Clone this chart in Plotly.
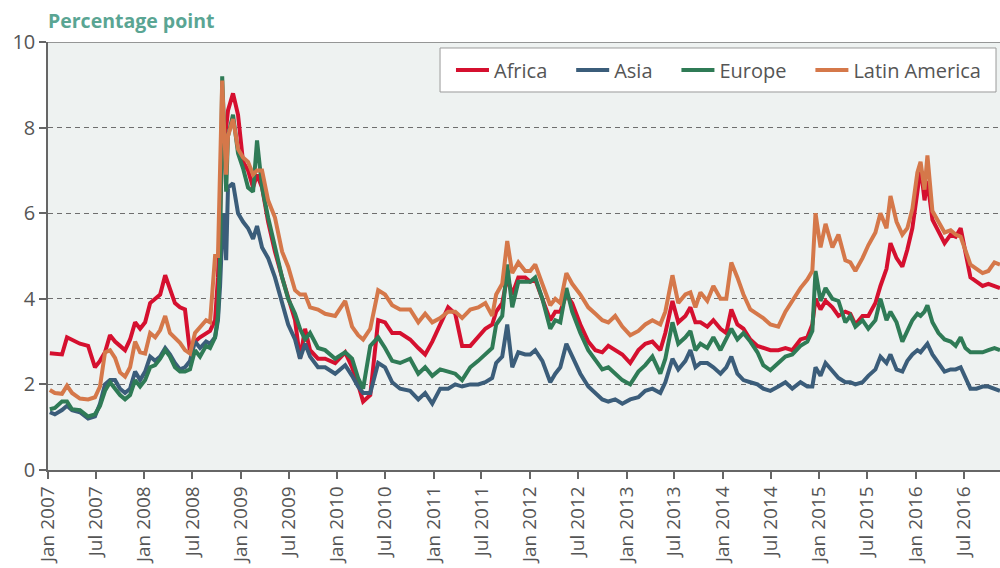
import plotly.graph_objects as go

dates = [
    "2007-01-08","2007-01-27","2007-02-23","2007-03-14","2007-04-02","2007-05-02","2007-06-02","2007-06-28",
    "2007-07-17","2007-08-05","2007-08-24","2007-09-12","2007-10-01","2007-10-20","2007-11-08","2007-11-27",
    "2007-12-16","2008-01-04","2008-01-23","2008-02-11","2008-03-01","2008-03-20","2008-04-07","2008-04-26",
    "2008-05-15","2008-06-03","2008-06-22","2008-07-11","2008-07-30","2008-08-22","2008-09-06","2008-09-25",
    "2008-10-06","2008-10-14","2008-10-22","2008-10-29","2008-11-06","2008-11-13","2008-12-02","2008-12-21",
    "2009-01-09","2009-01-28","2009-02-16","2009-03-03","2009-03-22","2009-04-14","2009-05-10","2009-06-06",
    "2009-06-29","2009-07-25","2009-08-13","2009-09-01","2009-09-20","2009-10-20","2009-11-16","2009-12-24",
    "2010-01-31","2010-02-26","2010-03-21","2010-04-09","2010-05-06","2010-06-05","2010-07-01","2010-07-28",
    "2010-08-27","2010-10-04","2010-11-04","2010-11-30","2010-12-27","2011-01-26","2011-02-25","2011-03-24",
    "2011-04-19","2011-05-20","2011-06-19","2011-07-16","2011-08-11","2011-08-26","2011-09-18","2011-10-07",
    "2011-10-26","2011-11-18","2011-12-14","2012-01-02","2012-01-21","2012-02-17","2012-03-18","2012-04-06",
    "2012-04-25","2012-05-18","2012-06-09","2012-07-10","2012-08-09","2012-09-05","2012-10-01","2012-10-24",
    "2012-11-19","2012-12-16","2013-01-15","2013-02-15","2013-03-13","2013-04-09","2013-05-09","2013-05-28",
    "2013-06-24","2013-07-16","2013-08-12","2013-08-31","2013-09-19","2013-10-08","2013-11-03","2013-11-26",
    "2013-12-23","2014-01-14","2014-02-02","2014-02-25","2014-03-20","2014-04-15","2014-05-12","2014-06-03",
    "2014-06-30","2014-07-30","2014-08-26","2014-09-21","2014-10-22","2014-11-17","2014-12-06","2014-12-18",
    "2015-01-06","2015-01-25","2015-02-20","2015-03-15","2015-04-10","2015-04-29","2015-05-18","2015-06-14",
    "2015-07-06","2015-08-02","2015-08-21","2015-09-13","2015-09-28","2015-10-21","2015-11-12","2015-12-01",
    "2015-12-20","2016-01-08","2016-01-20","2016-02-04","2016-02-15","2016-03-05","2016-03-28","2016-04-20",
    "2016-05-13","2016-06-01","2016-06-20","2016-07-08","2016-07-27","2016-08-19","2016-09-11","2016-10-03",
    "2016-10-26","2016-11-16",
]

africa = [
    2.73,2.72,2.70,3.10,3.05,2.95,2.90,2.40,
    2.55,2.75,3.15,3.00,2.90,2.80,3.05,3.45,
    3.30,3.45,3.90,4.00,4.10,4.55,4.20,3.90,
    3.80,3.75,2.75,3.00,3.10,3.20,3.25,3.50,
    4.50,6.00,7.50,7.80,8.00,8.40,8.80,8.30,
    7.20,7.00,6.60,6.90,6.60,5.80,5.10,4.50,
    4.00,3.50,2.60,3.30,2.80,2.60,2.60,2.50,
    2.75,2.40,2.00,1.60,1.75,3.50,3.45,3.20,
    3.20,3.05,2.85,2.70,3.00,3.40,3.80,3.65,
    2.90,2.90,3.10,3.30,3.40,3.70,3.90,4.50,
    4.10,4.50,4.50,4.40,4.45,4.00,3.50,3.70,
    3.70,4.10,3.90,3.40,3.00,2.80,2.75,2.90,
    2.80,2.70,2.50,2.80,2.95,3.00,2.80,3.20,
    3.95,3.45,3.60,3.80,3.45,3.45,3.35,3.50,
    3.30,3.20,3.75,3.40,3.30,3.05,2.90,2.85,
    2.80,2.80,2.85,2.80,3.05,3.10,3.40,4.00,
    3.75,3.95,3.80,3.60,3.70,3.65,3.40,3.60,
    3.60,3.90,4.30,4.70,5.30,4.95,4.75,5.15,
    5.65,6.50,7.10,6.30,6.75,5.85,5.55,5.30,
    5.50,5.45,5.65,5.05,4.50,4.40,4.30,4.35,
    4.30,4.25,
]

asia = [
    1.35,1.30,1.40,1.50,1.40,1.35,1.20,1.25,
    1.55,2.00,2.10,2.10,1.90,1.80,1.90,2.30,
    2.10,2.30,2.65,2.55,2.65,2.85,2.70,2.50,
    2.35,2.40,2.55,3.00,2.85,3.00,2.95,3.10,
    3.50,4.30,5.50,6.00,4.90,6.60,6.70,6.00,
    5.80,5.65,5.40,5.70,5.20,4.95,4.50,3.90,
    3.40,3.05,2.60,2.95,2.65,2.40,2.40,2.25,
    2.45,2.20,1.95,1.80,1.80,2.50,2.40,2.05,
    1.90,1.85,1.65,1.80,1.55,1.90,1.90,2.00,
    1.95,2.00,2.00,2.05,2.15,2.50,2.65,3.40,
    2.40,2.75,2.70,2.70,2.80,2.55,2.05,2.25,
    2.40,2.95,2.65,2.25,1.95,1.80,1.65,1.60,
    1.65,1.55,1.65,1.70,1.85,1.90,1.80,2.05,
    2.60,2.35,2.55,2.80,2.40,2.50,2.50,2.40,
    2.25,2.40,2.65,2.25,2.10,2.05,2.00,1.90,
    1.85,1.95,2.05,1.90,2.05,1.95,1.95,2.40,
    2.20,2.50,2.30,2.15,2.05,2.05,2.00,2.05,
    2.20,2.35,2.65,2.50,2.70,2.35,2.30,2.55,
    2.70,2.80,2.75,2.85,2.95,2.70,2.50,2.30,
    2.35,2.35,2.40,2.15,1.90,1.90,1.95,1.95,
    1.90,1.85,
]

europe = [
    1.42,1.45,1.60,1.60,1.42,1.40,1.25,1.30,
    1.50,1.85,2.05,1.90,1.75,1.65,1.75,2.10,
    1.95,2.10,2.40,2.45,2.60,2.80,2.65,2.40,
    2.30,2.30,2.35,2.80,2.65,2.90,2.85,3.10,
    3.60,5.00,9.20,8.00,6.50,7.80,8.30,7.40,
    7.05,6.60,6.50,7.70,6.60,5.90,5.20,4.50,
    4.00,3.65,3.30,3.05,3.20,2.85,2.80,2.60,
    2.75,2.60,2.15,1.90,2.90,3.10,2.85,2.55,
    2.50,2.60,2.25,2.40,2.20,2.35,2.30,2.25,
    2.10,2.40,2.55,2.70,2.85,3.40,3.60,4.80,
    3.80,4.40,4.40,4.40,4.50,4.00,3.30,3.50,
    3.45,4.25,3.70,3.20,2.80,2.55,2.35,2.40,
    2.25,2.10,2.00,2.30,2.45,2.65,2.25,2.60,
    3.45,2.95,3.10,3.25,2.80,2.95,2.85,3.10,
    2.80,3.05,3.30,3.05,3.20,3.00,2.75,2.45,
    2.33,2.50,2.65,2.70,2.90,3.00,3.25,4.65,
    3.95,4.25,4.00,3.95,3.45,3.60,3.35,3.50,
    3.30,3.50,4.00,3.50,3.70,3.45,3.00,3.25,
    3.50,3.65,3.60,3.70,3.85,3.45,3.20,3.05,
    3.00,2.90,3.10,2.85,2.75,2.75,2.75,2.80,
    2.85,2.80,
]

latin_america = [
    1.87,1.80,1.78,1.97,1.80,1.67,1.65,1.70,
    1.95,2.75,2.80,2.62,2.28,2.18,2.40,3.00,
    2.75,2.72,3.20,3.10,3.27,3.60,3.20,3.10,
    2.97,2.80,2.72,3.20,3.35,3.50,3.45,5.00,
    5.00,7.00,9.10,8.00,6.90,7.80,8.20,7.50,
    7.30,7.20,6.90,7.00,7.00,6.30,5.90,5.10,
    4.75,4.20,4.10,4.10,3.80,3.75,3.65,3.60,
    3.95,3.35,3.15,3.05,3.30,4.20,4.10,3.85,
    3.75,3.75,3.45,3.65,3.45,3.55,3.70,3.70,
    3.55,3.75,3.80,3.90,3.60,4.10,4.35,5.35,
    4.60,4.85,4.65,4.65,4.80,4.35,3.85,4.00,
    3.90,4.60,4.35,4.10,3.80,3.65,3.50,3.45,
    3.60,3.35,3.15,3.25,3.40,3.50,3.40,3.70,
    4.55,3.90,4.10,4.15,3.80,4.15,3.95,4.30,
    4.00,4.00,4.85,4.50,4.10,3.75,3.65,3.55,
    3.40,3.35,3.70,3.95,4.25,4.45,4.65,6.00,
    5.20,5.75,5.20,5.50,4.90,4.85,4.65,4.95,
    5.25,5.55,6.00,5.65,6.40,5.80,5.50,5.65,
    6.10,6.95,7.20,6.55,7.35,6.05,5.80,5.55,
    5.60,5.50,5.45,5.10,4.80,4.70,4.60,4.65,
    4.85,4.80,
]

series_names = ["Africa", "Asia", "Europe", "Latin America"]
series_values = [africa, asia, europe, latin_america]
series_colors = ["#d5102f", "#3b5d7a", "#2f7b56", "#d5784a"]

y_ticks = [0, 2, 4, 6, 8, 10]

FONT = "Open Sans"
TXT = "#555555"

fig = go.Figure()
for i, (name, vals, col) in enumerate(zip(series_names, series_values, series_colors)):
    pad = "\u00a0" * 3 + "\u2009" if i < len(series_names) - 1 else ""
    fig.add_trace(go.Scatter(
        x=dates, y=vals, name=name + pad, mode="lines",
        line=dict(color=col, width=4),
    ))

fig.update_layout(
    width=1000, height=568,
    margin=dict(l=48, r=0, t=42, b=98, autoexpand=False),
    paper_bgcolor="white",
    plot_bgcolor="#eef2f1",
    font=dict(family=FONT, color=TXT, size=18),
    showlegend=True,
    legend=dict(
        orientation="h",
        x=0.4233, xanchor="left",
        y=0.9346, yanchor="middle",
        bgcolor="rgba(0,0,0,0)",
        borderwidth=0,
        font=dict(family=FONT, size=20, color=TXT),
        itemwidth=33,
    ),
    xaxis=dict(
        type="date",
        range=["2007-01-01", "2016-11-16"],
        tick0="2007-01-01",
        dtick="M6",
        tickformat="%b %Y",
        tickangle=-90,
        ticks="outside",
        ticklen=7,
        tickcolor="#666666",
        tickwidth=1.5,
        showgrid=False,
        showline=True,
        linecolor="#666666",
        linewidth=1.5,
        zeroline=False,
        automargin=False,
        tickfont=dict(family=FONT, size=19, color=TXT),
    ),
    yaxis=dict(
        range=[0, 10],
        tickvals=y_ticks,
        ticks="outside",
        ticklen=7,
        tickcolor="#666666",
        tickwidth=1.5,
        showgrid=True,
        gridcolor="#6e6e6e",
        gridwidth=1,
        griddash="5px,4px",
        showline=True,
        linecolor="#666666",
        linewidth=1.5,
        zeroline=False,
        automargin=False,
        tickfont=dict(family=FONT, size=20, color=TXT),
    ),
    annotations=[dict(
        text="<b>Percentage point</b>",
        xref="paper", yref="paper",
        x=0, y=1.0, xanchor="left", yanchor="bottom",
        yshift=6, xshift=-2,
        showarrow=False,
        font=dict(family=FONT, size=19.5, color="#5aa593"),
    )],
    shapes=[
        dict(
            type="line", xref="paper", yref="y",
            x0=0, x1=1, y0=10, y1=10,
            line=dict(color="#777777", width=1.5),
            layer="above",
        ),
        dict(
            type="rect", xref="paper", yref="paper",
            x0=0.4118, x1=0.9958, y0=0.8832, y1=0.986,
            fillcolor="white",
            line=dict(color="#9a9a9a", width=1),
            layer="above",
        ),
    ],
)

fig.write_html(
    "out.html",
    config={"displayModeBar": False},
    post_script=(
        "document.body.style.margin='0';"
        "document.documentElement.style.overflow='hidden';"
        "document.body.style.overflow='hidden';"
    ),
)
